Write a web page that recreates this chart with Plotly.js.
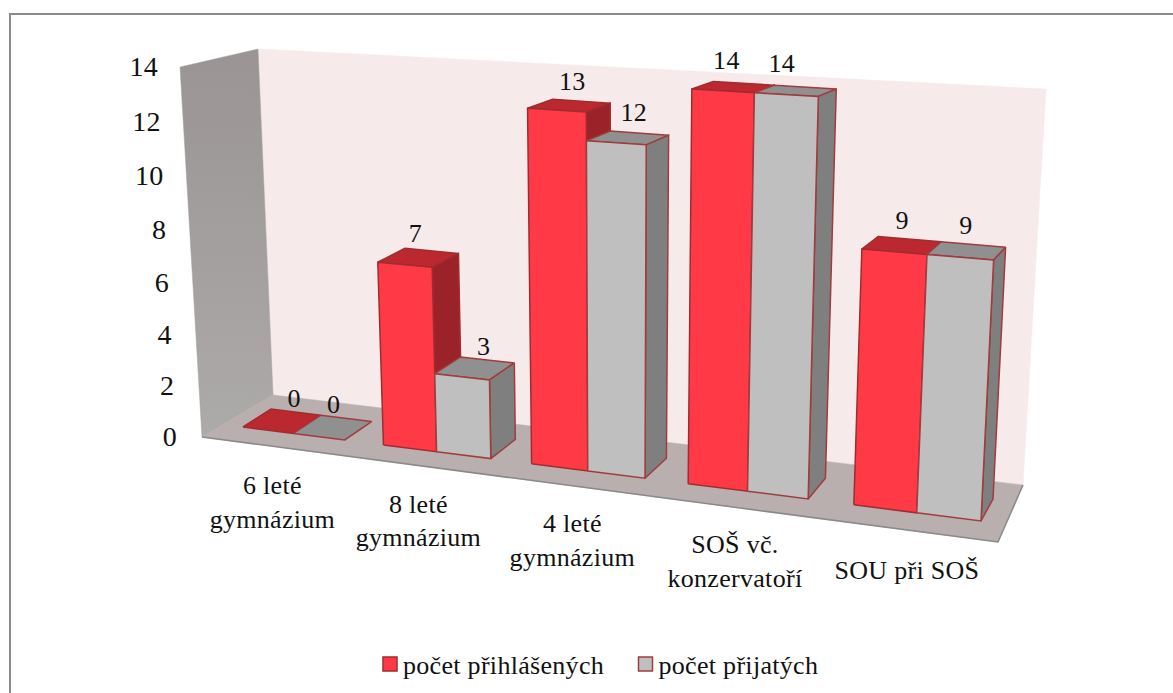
<!DOCTYPE html>
<html><head><meta charset="utf-8">
<script src="https://cdn.plot.ly/plotly-3.0.1.min.js"></script>
<style>
html,body{margin:0;padding:0;background:#fff}
#c text{letter-spacing:.3px}
</style></head><body><div id="c" style="width:1173px;height:693px"></div>
<script>
const categories=["6 leté<br>gymnázium","8 leté<br>gymnázium","4 leté<br>gymnázium","SOŠ vč.<br>konzervatoří","SOU při SOŠ"];
const seriesNames=["počet přihlášených","počet přijatých"];
const prihlaseni=[0,7,13,14,9];
const prijati=[0,3,12,14,9];
const tickValues=[0,2,4,6,8,10,12,14];

const W=1173,H=693,VMAX=14,PITCH=2.74,PMAX=12.96;
function homography(c){
  const [x0,y0]=c[0],[x1,y1]=c[1],[x2,y2]=c[2],[x3,y3]=c[3];
  const dx1=x1-x2,dx2=x3-x2,sx=x0-x1+x2-x3,dy1=y1-y2,dy2=y3-y2,sy=y0-y1+y2-y3;
  const den=dx1*dy2-dx2*dy1,g=(sx*dy2-dx2*sy)/den,h=(dx1*sy-sx*dy1)/den;
  const a=x1-x0+g*x1,b=x3-x0+h*x3,d=y1-y0+g*y1,e=y3-y0+h*y3;
  return (p,v)=>{const u=p/PMAX,t=v/VMAX,w=g*u+h*t+1;return [(a*u+b*t+x0)/w,(d*u+e*t+y0)/w];};
}
const front=homography([[243,427],[981,521],[1001,107],[225,62]]);
const back=homography([[271,409],[993,499],[1013,100],[255,53]]);

function bars(values,s){
  const f={x:[],y:[]},t={x:[],y:[]},r={x:[],y:[]};
  const add=(o,pts)=>{pts.concat([pts[0]]).forEach(q=>{o.x.push(q[0]);o.y.push(q[1]);});o.x.push(null);o.y.push(null);};
  values.forEach((v,i)=>{
    const p0=PITCH*i+s,p1=p0+1;
    add(t,[front(p0,v),front(p1,v),back(p1,v),back(p0,v)]);
    if(v>0){
      add(f,[front(p0,0),front(p1,0),front(p1,v),front(p0,v)]);
      add(r,[front(p1,0),front(p1,v),back(p1,v),back(p1,0)]);
    }
  });
  return {f,t,r};
}
function face(o,fill,line){return {type:'scatter',mode:'lines',x:o.x,y:o.y,fill:'toself',fillcolor:fill,line:{color:line,width:1.5},hoverinfo:'skip',showlegend:false};}
function wall(pts,fill,line){const c=pts.concat([pts[0]]);return {type:'scatter',mode:'lines',x:c.map(q=>q[0]),y:c.map(q=>q[1]),fill:'toself',fillcolor:fill,line:{color:line||fill,width:line?1:0.5},hoverinfo:'skip',showlegend:false};}

const traces=[];
traces.push(wall([[258,49],[1046,89],[1023,485],[273,395]],'#F6EAEA'));
const sideWall=wall([[180,67],[258,49],[273,395],[202,437]],'#A09B9B');
sideWall.fillgradient={type:'vertical',colorscale:[[0,'#ADAAAA'],[1,'#9A9494']]};
sideWall.line={color:'#A5A0A0',width:0.5};
traces.push(sideWall);
traces.push(wall([[202,437],[273,395],[1023,485],[998,542]],'#B9AFAF'));
traces.push({type:'scatter',mode:'lines',x:[202,998,1023],y:[437,542,485],line:{color:'#8A8A8A',width:1.5},hoverinfo:'skip',showlegend:false});
const a=bars(prihlaseni,0),b=bars(prijati,1);
traces.push(face(a.t,'#BC2830','#A02C30'),face(a.r,'#9C2229','#A02C30'),face(a.f,'#FF3A46','#A02C30'));
traces.push(face(b.t,'#909090','#A03C3E'),face(b.r,'#7F7F7F','#A03C3E'),face(b.f,'#BFBFBF','#A03C3E'));
// frame
traces.push({type:'scatter',mode:'lines',x:[10,10,W],y:[H,14,14],line:{color:'#8C8C8C',width:2},hoverinfo:'skip',showlegend:false});

const serif='"Liberation Serif","Times New Roman",serif';
// value labels
const LABEL_DX=[[12,-3,3,-7,0],[1,9,6,-14,-1]];
const LABEL_DY=[[0,-1,-1,-4,-2],[0,1,-2,-4,-2]];
[prihlaseni,prijati].forEach((vals,s)=>{
  const xs=[],ys=[];
  vals.forEach((v,i)=>{
    const p0=PITCH*i+s,p1=p0+1,q=[front(p0,v),front(p1,v),back(p1,v),back(p0,v)];
    xs.push(q.reduce((m,k)=>m+k[0],0)/4+LABEL_DX[s][i]);
    ys.push(q.reduce((m,k)=>m+k[1],0)/4-8+LABEL_DY[s][i]);
  });
  traces.push({type:'scatter',mode:'text',x:xs,y:ys,text:vals.map(String),textposition:'top center',textfont:{family:serif,size:26,color:'#111'},hoverinfo:'skip',showlegend:false});
});
// value-axis labels
const tickY=v=>438-25.17*v/(1-0.0034*v);
traces.push({type:'scatter',mode:'text',x:tickValues.map(v=>177-(438-tickY(v))*19/370),y:tickValues.map(v=>tickY(v)+1),text:tickValues.map(String),textposition:'middle left',textfont:{family:serif,size:28,color:'#111'},hoverinfo:'skip',showlegend:false});
// category labels
traces.push({type:'scatter',mode:'text',
  x:categories.map((c,i)=>front(PITCH*i+1,0)[0]-21+2.8*i),
  y:categories.map((c,i)=>front(PITCH*i+1,0)[1]+41+0.5*i+(c.includes('<br>')?0:4)),
  text:categories,textposition:'bottom center',textfont:{family:serif,size:26,color:'#111'},hoverinfo:'skip',showlegend:false});
// legend entries
traces.push({type:'scatter',mode:'markers',x:[null],y:[null],name:seriesNames[0],marker:{symbol:'square',size:14,color:'#FF3A46',line:{color:'#A02C30',width:1.5}}});
traces.push({type:'scatter',mode:'markers',x:[null],y:[null],name:seriesNames[1],marker:{symbol:'square',size:14,color:'#BFBFBF',line:{color:'#A03C3E',width:1.5}}});

const layout={width:W,height:H,margin:{l:0,r:0,t:0,b:0},paper_bgcolor:'#fff',plot_bgcolor:'#fff',
  xaxis:{range:[0,W],visible:false,fixedrange:true},
  yaxis:{range:[H,0],visible:false,fixedrange:true},
  showlegend:true,
  legend:{orientation:'h',x:363/W,xanchor:'left',y:1-664/H,yanchor:'middle',entrywidth:210.5,entrywidthmode:'pixels',bgcolor:'rgba(0,0,0,0)',font:{family:serif,size:26,color:'#111'},itemwidth:30,traceorder:'normal'}};
Plotly.newPlot('c',traces,layout,{displayModeBar:false,staticPlot:true}).then(()=>{
  document.querySelectorAll('#c .legendsymbols').forEach(n=>n.setAttribute('transform','translate(7,0)'));
});
</script></body></html>
